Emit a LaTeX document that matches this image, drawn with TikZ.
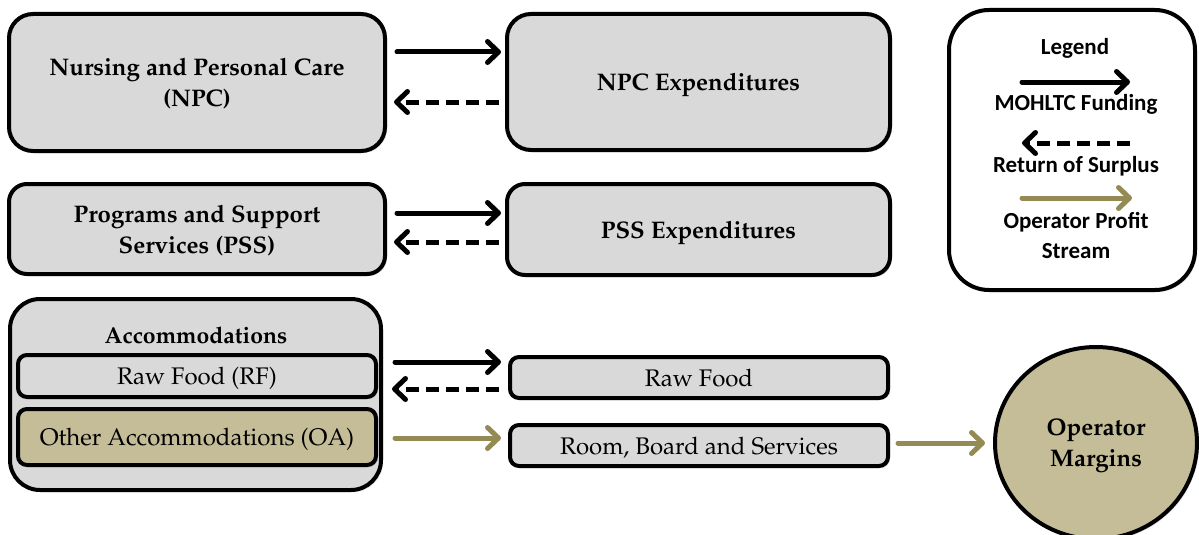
\documentclass[tikz,border=0pt]{standalone}
\usepackage[T1]{fontenc}
\usepackage{fontspec}
\newfontfamily\legendfont{Carlito}
\usetikzlibrary{arrows.meta,shadows,shapes.geometric}
\definecolor{boxgray}{HTML}{D9D9D9}
\definecolor{tanfill}{HTML}{C4BD97}
\definecolor{olivearrow}{HTML}{948A54}
\newcommand\pal{\fontencoding{T1}\fontfamily{ppl}\selectfont}
\begin{document}
\begin{tikzpicture}[x=1pt,y=-1pt,
  shad/.style={drop shadow={shadow xshift=2pt,shadow yshift=-2pt,opacity=0.25}},
  box/.style={draw, line width=4pt, fill=boxgray, align=center, inner sep=0pt, text depth=0pt, shad},
  bigtxt/.style={font=\pal\bfseries\fontsize{24}{31}\selectfont},
  regtxt/.style={font=\pal\fontsize{24}{28}\selectfont},
  legtxt/.style={font=\legendfont\bfseries\fontsize{23}{30}\selectfont, align=center, anchor=base},
  fund/.style={line width=5pt, line cap=round, -{Straight Barb[length=11pt,width=21pt,round]}},
  ret/.style={fund, line cap=butt, dash pattern=on 13pt off 7pt},
  prof/.style={fund, draw=olivearrow}
]
\useasboundingbox (0,0) rectangle (1199,535);

% left boxes
\node[box, bigtxt, rounded corners=24pt, minimum width=376pt, minimum height=137pt] (npc) at (197,82.5) {Nursing and Personal Care\\(NPC)};
\node[box, bigtxt, rounded corners=24pt, minimum width=383pt, minimum height=136pt] (npcx) at (698.5,82) {NPC Expenditures};
\node[box, bigtxt, rounded corners=18pt, minimum width=376pt, minimum height=90pt] (pss) at (197,229) {Programs and Support\\Services (PSS)};
\node[box, bigtxt, rounded corners=18pt, minimum width=383pt, minimum height=91pt] (pssx) at (698.5,229.5) {PSS Expenditures};

% accommodations
\node[box, rounded corners=30pt, minimum width=371pt, minimum height=191pt] (acc) at (195.5,394.5) {};
\node[font=\pal\bfseries\fontsize{23}{28}\selectfont, anchor=base] (acct) at (196,343) {Accommodations};
\node[box, regtxt, rounded corners=9pt, minimum width=358pt, minimum height=42pt, drop shadow={opacity=0}] (rf) at (197,376) {Raw Food (RF)};
\node[box, regtxt, fill=tanfill, rounded corners=9pt, minimum width=358pt, minimum height=56pt, drop shadow={opacity=0}] (oa) at (197,437) {Other Accommodations (OA)};

\node[box, regtxt, rounded corners=9pt, minimum width=378pt, minimum height=41pt] (rfx) at (699,377.5) {Raw Food};
\node[box, regtxt, rounded corners=9pt, minimum width=378pt, minimum height=41pt] (rbs) at (699,445.5) {Room, Board and Services};

% operator margins
\node[ellipse, draw, line width=4pt, fill=tanfill, bigtxt, align=center, inner sep=0pt, text depth=0pt, minimum width=202pt, minimum height=192pt, shad] (om) at (1096,443) {Operator\\Margins};

% legend
\node[box, fill=white, rounded corners=40pt, minimum width=246pt, minimum height=280pt, drop shadow={opacity=0}] (leg) at (1072,150) {};
\node[legtxt] (legt) at (1075,55) {Legend};
\node[legtxt] (legf) at (1076,110) {MOHLTC Funding};
\node[legtxt] (legr) at (1076,172) {Return of Surplus};
\node[legtxt] (legp) at (1076,258) {Operator Profit\\Stream};
\coordinate (l1s) at (1022,82);
\coordinate (l1e) at (1130,82);
\coordinate (l2s) at (1130,143);
\coordinate (l2e) at (1022,143);
\coordinate (l3s) at (1022,198);
\coordinate (l3e) at (1132,198);
\draw[fund] (l1s) -- (l1e);
\draw[ret] (l2s) -- (l2e);
\draw[prof] (l3s) -- (l3e);

% connectors
\draw[fund] ([xshift=10pt]npc.east |- 0,52) -- ([xshift=-4pt]npcx.west |- 0,52);
\draw[ret] ([xshift=-6pt]npcx.west |- 0,102) -- ([xshift=7pt]npc.east |- 0,102);
\draw[fund] ([xshift=10pt]pss.east |- 0,213) -- ([xshift=-4pt]pssx.west |- 0,213);
\draw[ret] ([xshift=-6pt]pssx.west |- 0,242) -- ([xshift=7pt]pss.east |- 0,242);
\draw[fund] ([xshift=12pt]acc.east |- 0,362) -- ([xshift=-7pt]rfx.west |- 0,362);
\draw[ret] ([xshift=-9pt]rfx.west |- 0,389) -- ([xshift=9pt]acc.east |- 0,389);
\draw[prof] ([xshift=12pt]acc.east |- 0,438) -- ([xshift=-7pt]rbs.west |- 0,438);
\draw[prof] ([xshift=8pt]rbs.east |- 0,443) -- ([xshift=-8pt]om.west |- 0,443);
\end{tikzpicture}
\end{document}
